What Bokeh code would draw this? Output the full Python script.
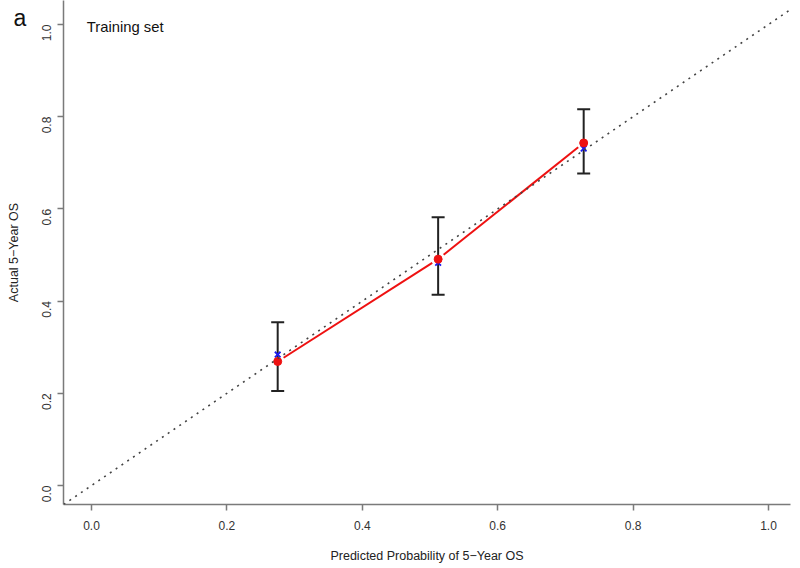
import math
from bokeh.plotting import figure
from bokeh.models import (Range1d, Whisker, ColumnDataSource, Label, Slope,
                          FixedTicker, TeeHead, PrintfTickFormatter, Title)
from bokeh.embed import file_html
from bokeh.resources import INLINE

# ---- data ----
predicted = [0.275, 0.512, 0.727]
observed = [0.269, 0.491, 0.743]
ideal_mark = [0.284, 0.483, 0.731]
ci_upper = [0.354, 0.582, 0.816]
ci_lower = [0.205, 0.414, 0.677]
ticks = [0.0, 0.2, 0.4, 0.6, 0.8, 1.0]

FONT = "Liberation Sans"
W, H = 800, 568
BL, BR, BT, BB = 63, 10, 0, 64
x_start, x_end = -0.0414, 1.0325
y_start, y_end = -0.0412, 1.052

p = figure(width=W, height=H, output_backend="svg", toolbar_location=None,
           x_range=Range1d(x_start, x_end), y_range=Range1d(y_start, y_end),
           min_border_left=BL, min_border_right=BR, min_border_top=BT,
           min_border_bottom=BB)
p.grid.visible = False
p.outline_line_color = None
p.background_fill_color = "white"
p.border_fill_color = "white"

for ax in (p.xaxis[0], p.yaxis[0]):
    ax.ticker = FixedTicker(ticks=ticks)
    ax.formatter = PrintfTickFormatter(format="%.1f")
    ax.minor_tick_line_color = None
    ax.axis_line_color = "#7a7a7a"
    ax.axis_line_width = 1.5
    ax.major_tick_line_color = "#7a7a7a"
    ax.major_tick_line_width = 1.5
    ax.major_tick_out = 6
    ax.major_tick_in = 0
    ax.major_label_text_font = FONT
    ax.major_label_text_font_size = "12px"
    ax.major_label_text_color = "#333333"
    ax.axis_label_text_font = FONT
    ax.axis_label_text_font_size = "12.5px"
    ax.axis_label_text_font_style = "normal"
    ax.axis_label_text_color = "#222222"

p.xaxis.axis_label = "Predicted Probability of 5\u2212Year OS"
p.xaxis.major_label_standoff = 10
p.xaxis.axis_label_standoff = 16
p.yaxis.axis_label = "Actual 5\u2212Year OS"
p.yaxis.major_label_orientation = math.pi / 2
p.yaxis.major_label_standoff = 11
p.yaxis.axis_label_standoff = 14

p.add_layout(Slope(gradient=1, y_intercept=0, line_color="#444444",
                   line_width=1.6, line_dash="2 5"))

src = ColumnDataSource(dict(x=predicted, upper=ci_upper, lower=ci_lower))
p.add_layout(Whisker(base="x", upper="upper", lower="lower", source=src,
                     line_color="#222222", line_width=2,
                     upper_head=TeeHead(size=13, line_width=2, line_color="#222222"),
                     lower_head=TeeHead(size=13, line_width=2, line_color="#222222")))

sx = (W - BL - BR) / (x_end - x_start)
sy = (H - BT - BB) / (y_end - y_start)
gap = 7.0
x0s, y0s, x1s, y1s = [], [], [], []
for i in range(len(predicted) - 1):
    xa, ya, xb, yb = predicted[i], observed[i], predicted[i + 1], observed[i + 1]
    L = math.hypot((xb - xa) * sx, (yb - ya) * sy)
    f = gap / L
    x0s.append(xa + (xb - xa) * f)
    y0s.append(ya + (yb - ya) * f)
    x1s.append(xb - (xb - xa) * f)
    y1s.append(yb - (yb - ya) * f)
p.segment(x0s, y0s, x1s, y1s, line_color="#ee1111", line_width=2)

p.scatter(predicted, ideal_mark, marker="x", size=8, line_color="#1a1aee",
          line_width=1.8)
p.scatter(predicted, observed, marker="circle", size=8, fill_color="#ee1111",
          line_color="#ee1111")

p.add_layout(Label(x=-0.007, y=0.9935, text="Training set", text_font=FONT,
                   text_font_size="14.8px", text_color="#111111",
                   text_baseline="middle", text_align="left"))

# panel label "a" (outside the frame, so drawn as a title)
p.add_layout(Title(text="a", align="left", offset=-50, standoff=-60,
                   text_font=FONT, text_font_size="23px",
                   text_font_style="normal", text_color="#111111"), "above")

open("out.html", "w").write(file_html(p, INLINE))
